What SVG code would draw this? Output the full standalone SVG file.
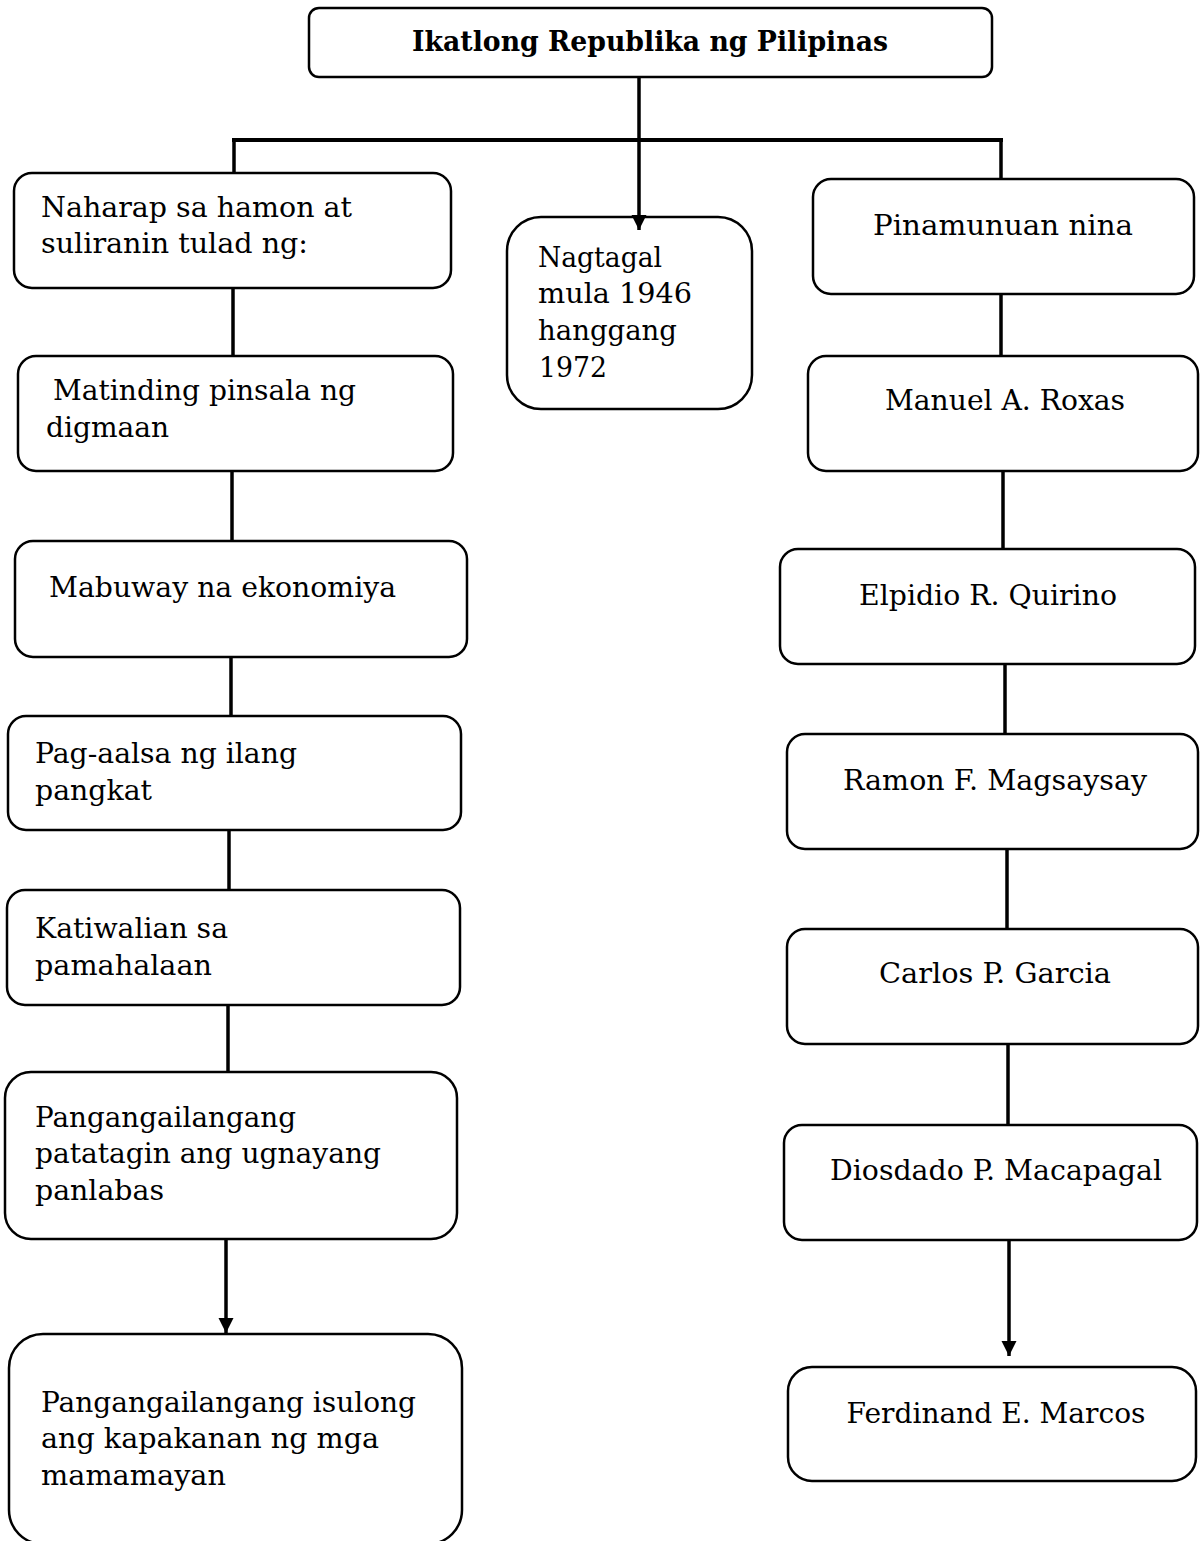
<svg xmlns="http://www.w3.org/2000/svg" width="1200" height="1541" viewBox="0 0 1200 1541">
<style>
.box{fill:#fff;stroke:#000;stroke-width:2.5}
.t{font-family:"DejaVu Serif","Liberation Serif",serif;font-size:28.5px;fill:#000}
.c{text-anchor:middle}
.b{font-weight:bold;font-size:27px}
.ln{stroke:#000;stroke-width:3.5;fill:none}
</style>
<defs>
<marker id="ad" markerUnits="userSpaceOnUse" markerWidth="18" markerHeight="18" refX="15" refY="9" orient="auto" viewBox="0 0 18 18">
<path d="M0,1.5 L15,9 L0,16.5 Z" fill="#000"/>
</marker>
</defs>
<g id="title">
<rect class="box" x="309" y="8" width="683" height="69" rx="10"/>
<text class="t c b" x="650" y="51" textLength="476" lengthAdjust="spacingAndGlyphs">Ikatlong Republika ng Pilipinas</text>
</g>
<g id="naharap">
<rect class="box" x="14" y="173" width="437" height="115" rx="18"/>
<text class="t" x="41" y="217" textLength="311" lengthAdjust="spacingAndGlyphs">Naharap sa hamon at</text>
<text class="t" x="41" y="253" textLength="267" lengthAdjust="spacingAndGlyphs">suliranin tulad ng:</text>
</g>
<g id="matinding">
<rect class="box" x="18" y="356" width="435" height="115" rx="18"/>
<text class="t" x="53" y="400" textLength="303" lengthAdjust="spacingAndGlyphs">Matinding pinsala ng</text>
<text class="t" x="46" y="437" textLength="123" lengthAdjust="spacingAndGlyphs">digmaan</text>
</g>
<g id="mabuway">
<rect class="box" x="15" y="541" width="452" height="116" rx="18"/>
<text class="t" x="49" y="597" textLength="347" lengthAdjust="spacingAndGlyphs">Mabuway na ekonomiya</text>
</g>
<g id="pagaalsa">
<rect class="box" x="8" y="716" width="453" height="114" rx="18"/>
<text class="t" x="35" y="763" textLength="262" lengthAdjust="spacingAndGlyphs">Pag-aalsa ng ilang</text>
<text class="t" x="35" y="800" textLength="117" lengthAdjust="spacingAndGlyphs">pangkat</text>
</g>
<g id="katiwalian">
<rect class="box" x="7" y="890" width="453" height="115" rx="18"/>
<text class="t" x="35" y="938" textLength="193" lengthAdjust="spacingAndGlyphs">Katiwalian sa</text>
<text class="t" x="35" y="975" textLength="177" lengthAdjust="spacingAndGlyphs">pamahalaan</text>
</g>
<g id="ugnayang">
<rect class="box" x="5" y="1072" width="452" height="167" rx="26"/>
<text class="t" x="35" y="1127" textLength="261" lengthAdjust="spacingAndGlyphs">Pangangailangang</text>
<text class="t" x="35" y="1163" textLength="346" lengthAdjust="spacingAndGlyphs">patatagin ang ugnayang</text>
<text class="t" x="35" y="1200" textLength="129" lengthAdjust="spacingAndGlyphs">panlabas</text>
</g>
<g id="kapakanan">
<rect class="box" x="9" y="1334" width="453" height="210" rx="34"/>
<text class="t" x="41" y="1412" textLength="375" lengthAdjust="spacingAndGlyphs">Pangangailangang isulong</text>
<text class="t" x="41" y="1448" textLength="338" lengthAdjust="spacingAndGlyphs">ang kapakanan ng mga</text>
<text class="t" x="41" y="1485" textLength="185" lengthAdjust="spacingAndGlyphs">mamamayan</text>
</g>
<g id="nagtagal">
<rect class="box" x="507" y="217" width="245" height="192" rx="34"/>
<text class="t" x="538" y="267" textLength="124" lengthAdjust="spacingAndGlyphs">Nagtagal</text>
<text class="t" x="538" y="303" textLength="154" lengthAdjust="spacingAndGlyphs">mula 1946</text>
<text class="t" x="538" y="340" textLength="139" lengthAdjust="spacingAndGlyphs">hanggang</text>
<text class="t" x="539" y="377" textLength="68" lengthAdjust="spacingAndGlyphs">1972</text>
</g>
<g id="pinamunuan">
<rect class="box" x="813" y="179" width="381" height="115" rx="18"/>
<text class="t c" x="1003" y="235" textLength="260" lengthAdjust="spacingAndGlyphs">Pinamunuan nina</text>
</g>
<g id="roxas">
<rect class="box" x="808" y="356" width="390" height="115" rx="18"/>
<text class="t c" x="1005" y="410" textLength="240" lengthAdjust="spacingAndGlyphs">Manuel A. Roxas</text>
</g>
<g id="quirino">
<rect class="box" x="780" y="549" width="415" height="115" rx="18"/>
<text class="t c" x="988" y="605" textLength="258" lengthAdjust="spacingAndGlyphs">Elpidio R. Quirino</text>
</g>
<g id="magsaysay">
<rect class="box" x="787" y="734" width="411" height="115" rx="18"/>
<text class="t c" x="995" y="790" textLength="304" lengthAdjust="spacingAndGlyphs">Ramon F. Magsaysay</text>
</g>
<g id="garcia">
<rect class="box" x="787" y="929" width="411" height="115" rx="18"/>
<text class="t c" x="995" y="983" textLength="232" lengthAdjust="spacingAndGlyphs">Carlos P. Garcia</text>
</g>
<g id="macapagal">
<rect class="box" x="784" y="1125" width="413" height="115" rx="18"/>
<text class="t c" x="996" y="1180" textLength="332" lengthAdjust="spacingAndGlyphs">Diosdado P. Macapagal</text>
</g>
<g id="marcos">
<rect class="box" x="788" y="1367" width="408" height="114" rx="24"/>
<text class="t c" x="996" y="1423" textLength="299" lengthAdjust="spacingAndGlyphs">Ferdinand E. Marcos</text>
</g>
<g id="connectors">
<line class="ln" x1="639" y1="77" x2="639" y2="230" marker-end="url(#ad)"/>
<line class="ln" x1="232" y1="140" x2="1003" y2="140" style="stroke-width:4"/>
<line class="ln" x1="234" y1="140" x2="234" y2="173"/>
<line class="ln" x1="1001" y1="140" x2="1001" y2="179"/>
<line class="ln" x1="233" y1="288" x2="233" y2="356"/>
<line class="ln" x1="232" y1="471" x2="232" y2="541"/>
<line class="ln" x1="231" y1="657" x2="231" y2="716"/>
<line class="ln" x1="229" y1="830" x2="229" y2="890"/>
<line class="ln" x1="228" y1="1005" x2="228" y2="1072"/>
<line class="ln" x1="226" y1="1239" x2="226" y2="1333" marker-end="url(#ad)"/>
<line class="ln" x1="1001" y1="294" x2="1001" y2="356"/>
<line class="ln" x1="1003" y1="471" x2="1003" y2="549"/>
<line class="ln" x1="1005" y1="664" x2="1005" y2="734"/>
<line class="ln" x1="1007" y1="849" x2="1007" y2="929"/>
<line class="ln" x1="1008" y1="1044" x2="1008" y2="1125"/>
<line class="ln" x1="1009" y1="1240" x2="1009" y2="1356" marker-end="url(#ad)"/>
</g>
</svg>
